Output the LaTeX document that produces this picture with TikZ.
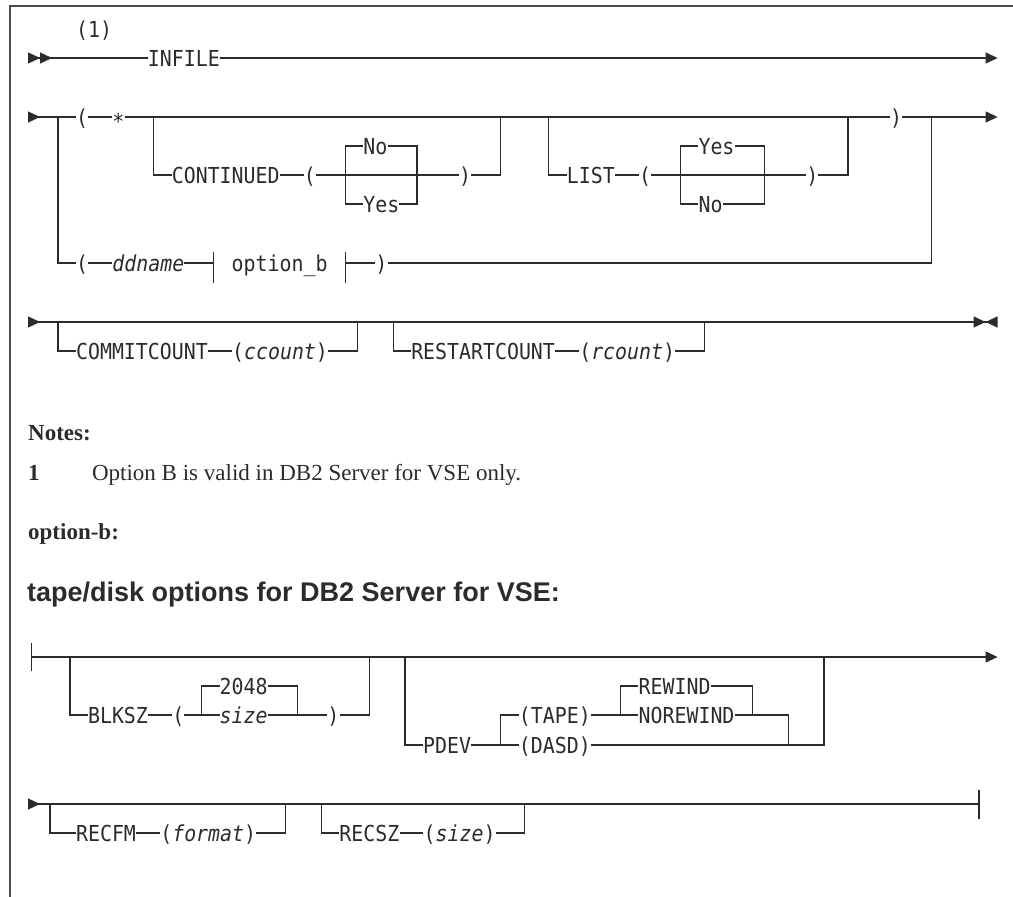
\documentclass[tikz,border=0pt]{standalone}
\usepackage{fontspec}
\usepackage{tikz}
\usetikzlibrary{arrows.meta,positioning}
\newfontfamily\railfont[FakeStretch=0.904]{DejaVu Sans Mono}
\newfontfamily\notefont{Liberation Serif}
\newfontfamily\headfont{Liberation Sans}
\definecolor{rl}{HTML}{2B2B2B}
\newcommand\railsize{\railfont\fontsize{22pt}{24pt}\selectfont}
\newcommand\notesize{\notefont\fontsize{23pt}{27pt}\selectfont}
\newcommand\headsize{\headfont\bfseries\fontsize{27pt}{31pt}\selectfont}
\newcommand\col[1]{34+11.97*#1}
\newcommand\gap{23.94pt}
\begin{document}
\begin{tikzpicture}[
  x=1pt, y=-1pt,
  rail/.style={line width=1.2pt, draw=rl},
  thick rail/.style={line width=2.4pt, draw=rl},
  tok/.style={font=\railsize, text=rl, inner sep=0pt, text height=16pt, text depth=0pt, anchor=west},
  var/.style={tok, font=\railsize\itshape},
  note/.style={font=\notesize, text=rl, inner sep=0pt, anchor=base west},
  fwd/.style={-{Triangle[length=12pt,width=11pt]}},
  lead/.style={{Triangle[reversed,length=12pt,width=11pt]}-},
]
\useasboundingbox (0,0) rectangle (1013,897);
\draw[line width=1.2pt, draw=rl!85] (10,897) -- (10,6) -- (1013,6);
% main statement
\coordinate (s1) at (28,58);
\coordinate (e1) at (\col{80.5},58);
\node[tok] (infile) at (\col{9.5},58) {INFILE};
\node[tok] (note1) at (\col{3.5},29) {(1)};
\draw[rail, {Triangle[reversed,length=12pt,width=11pt] Triangle[reversed,length=12pt,width=11pt]}-] (s1) -- (infile);
\draw[rail, fwd] (infile) -- (e1);
\coordinate (s2) at (28,117);
\coordinate (e2) at (\col{80.5},117);
\foreach \n/\c in {j2a/2, j2b/10, j2c/39, j2d/43, j2e/68, j2f/75} \coordinate (\n) at (\col{\c},117);
\coordinate (k1) at (\col{26},175);
\coordinate (k2) at (\col{32},175);
\coordinate (k3) at (\col{54},175);
\coordinate (k4) at (\col{61},175);
\coordinate (p1) at (\col{15},263);
\coordinate (p2) at (\col{26},263);
\node[tok] (lpA) at (\col{3.5},117) {(};
\node[tok, right=\gap of lpA] (star) {\raisebox{-4.5pt}{*}};
\node[tok] (rpA) at (\col{71.5},117) {)};
\node[tok] (cont) at (\col{11.5},175) {CONTINUED};
\node[tok, right=\gap of cont] (lpB) {(};
\node[tok] (cno) at (\col{27.5},146) {No};
\node[tok] (cyes) at (\col{27.5},204) {Yes};
\node[tok] (rpB) at (\col{35.5},175) {)};
\node[tok] (list) at (\col{44.5},175) {LIST};
\node[tok, right=\gap of list] (lpC) {(};
\node[tok] (lyes) at (\col{55.5},146) {Yes};
\node[tok] (lno) at (\col{55.5},204) {No};
\node[tok] (rpC) at (\col{64.5},175) {)};
\node[tok] (lpD) at (\col{3.5},263) {(};
\node[var, right=\gap of lpD] (ddname) {ddname};
\node[tok] (optb) at (\col{16.5},263) {option\_b};
\node[tok] (rpD) at (\col{28.5},263) {)};
\draw[rail, lead] (s2) -- (lpA);
\draw[rail] (lpA) -- (star);
\draw[rail] (star) -- (rpA);
\draw[rail, fwd] (rpA) -- (e2);
\draw[rail] (j2b) |- (cont);
\draw[rail] (cont) -- (lpB);
\draw[rail] (lpB) -- (rpB);
\draw[rail] (rpB) -| (j2c);
\draw[rail] (k1) |- (cno);
\draw[rail] (cno) -| (k2);
\draw[rail] (k1) |- (cyes);
\draw[rail] (cyes) -| (k2);
\draw[rail] (j2d) |- (list);
\draw[rail] (list) -- (lpC);
\draw[rail] (lpC) -- (rpC);
\draw[rail] (rpC) -| (j2e);
\draw[rail] (k3) |- (lyes);
\draw[rail] (lyes) -| (k4);
\draw[rail] (k3) |- (lno);
\draw[rail] (lno) -| (k4);
\draw[rail] (j2a) |- (lpD);
\draw[rail] (lpD) -- (ddname);
\draw[rail] (ddname) -- (p1);
\draw[rail] ([yshift=11pt]p1) -- ([yshift=-20pt]p1);
\draw[rail] ([yshift=11pt]p2) -- ([yshift=-20pt]p2);
\draw[rail] (p2) -- (rpD);
\draw[rail] (rpD) -| (j2f);
\coordinate (s3) at (28,322);
\coordinate (e3) at (\col{80.5},322);
\foreach \n/\c in {j3a/2, j3b/27, j3c/30, j3d/56, m3a/56.5, m3b/58.5} \coordinate (\n) at (\col{\c},322);
\node[tok] (commit) at (\col{3.5},351) {COMMITCOUNT};
\node[tok, right=\gap of commit] (ccount) {(\textit{ccount})};
\node[tok] (restart) at (\col{31.5},351) {RESTARTCOUNT};
\node[tok, right=\gap of restart] (rcount) {(\textit{rcount})};
\draw[rail, {Triangle[reversed,length=12pt,width=11pt]}-{Triangle[length=12pt,width=11pt] Triangle[reversed,length=12pt,width=11pt]}] (s3) -- (e3);
\draw[thick rail] (m3a) -- (m3b);
\draw[rail] (j3a) |- (commit);
\draw[rail] (commit) -- (ccount);
\draw[rail] (ccount) -| (j3b);
\draw[rail] (j3c) |- (restart);
\draw[rail] (restart) -- (rcount);
\draw[rail] (rcount) -| (j3d);
% notes
\node[note, font=\notesize\bfseries] (notes) at (28,440) {Notes:};
\node[note, font=\notesize\bfseries] (n1) at (28,480) {1};
\node[note, base right=52pt of n1] (n1txt) {Option B is valid in DB2 Server for VSE only.};
\node[note, font=\notesize\bfseries] (optlbl) at (28,539) {option-b:};
\node[note, font=\headsize] (head) at (27,601) {tape/disk options for DB2 Server for VSE:};
% option-b fragment
\coordinate (s4) at (31,657);
\coordinate (e4) at (\col{80.5},657);
\foreach \n/\c in {j4a/3, j4b/28, j4c/31, j4d/66} \coordinate (\n) at (\col{\c},657);
\coordinate (k5) at (\col{14},715);
\coordinate (k6) at (\col{22},715);
\coordinate (k7) at (\col{39},745);
\coordinate (k8) at (\col{49},715);
\coordinate (k9) at (\col{60},715);
\coordinate (k10) at (\col{63},745);
\node[tok] (blksz) at (\col{4.5},715) {BLKSZ};
\node[tok, right=\gap of blksz] (lpE) {(};
\node[tok] (dflt) at (\col{15.5},686) {2048};
\node[var] (bsize) at (\col{15.5},715) {size};
\node[tok] (rpE) at (\col{24.5},715) {)};
\node[tok] (pdev) at (\col{32.5},745) {PDEV};
\node[tok] (tape) at (\col{40.5},715) {(TAPE)};
\node[tok] (dasd) at (\col{40.5},745) {(DASD)};
\node[tok] (rewind) at (\col{50.5},686) {REWIND};
\node[tok] (norewind) at (\col{50.5},715) {NOREWIND};
\draw[rail, {Bar[width=28pt]}-{Triangle[length=12pt,width=11pt]}] (s4) -- (e4);
\draw[rail] (j4a) |- (blksz);
\draw[rail] (blksz) -- (lpE);
\draw[rail] (lpE) -- (bsize);
\draw[rail] (bsize) -- (rpE);
\draw[rail] (rpE) -| (j4b);
\draw[rail] (k5) |- (dflt);
\draw[rail] (dflt) -| (k6);
\draw[rail] (j4c) |- (pdev);
\draw[rail] (pdev) -- (dasd);
\draw[rail] (k7) |- (tape);
\draw[rail] (tape) -- (norewind);
\draw[rail] (k8) |- (rewind);
\draw[rail] (rewind) -| (k9);
\draw[rail] (norewind) -| (k10);
\draw[rail] (dasd) -| (j4d);
\coordinate (s5) at (28,804);
\coordinate (e5) at (\col{79},804);
\coordinate (j5a) at (50,804);
\foreach \n/\c in {j5b/21, j5c/24, j5d/41, m5a/41.5, m5b/43.5} \coordinate (\n) at (\col{\c},804);
\node[tok] (recfm) at (\col{3.5},833) {RECFM};
\node[tok, right=\gap of recfm] (format) {(\textit{format})};
\node[tok] (recsz) at (\col{25.5},833) {RECSZ};
\node[tok, right=\gap of recsz] (rsize) {(\textit{size})};
\draw[rail, {Triangle[reversed,length=12pt,width=11pt]}-{Bar[width=29pt]}] (s5) -- (e5);
\draw[thick rail] (m5a) -- (m5b);
\draw[rail] (j5a) |- (recfm);
\draw[rail] (recfm) -- (format);
\draw[rail] (format) -| (j5b);
\draw[rail] (j5c) |- (recsz);
\draw[rail] (recsz) -- (rsize);
\draw[rail] (rsize) -| (j5d);
\end{tikzpicture}
\end{document}
